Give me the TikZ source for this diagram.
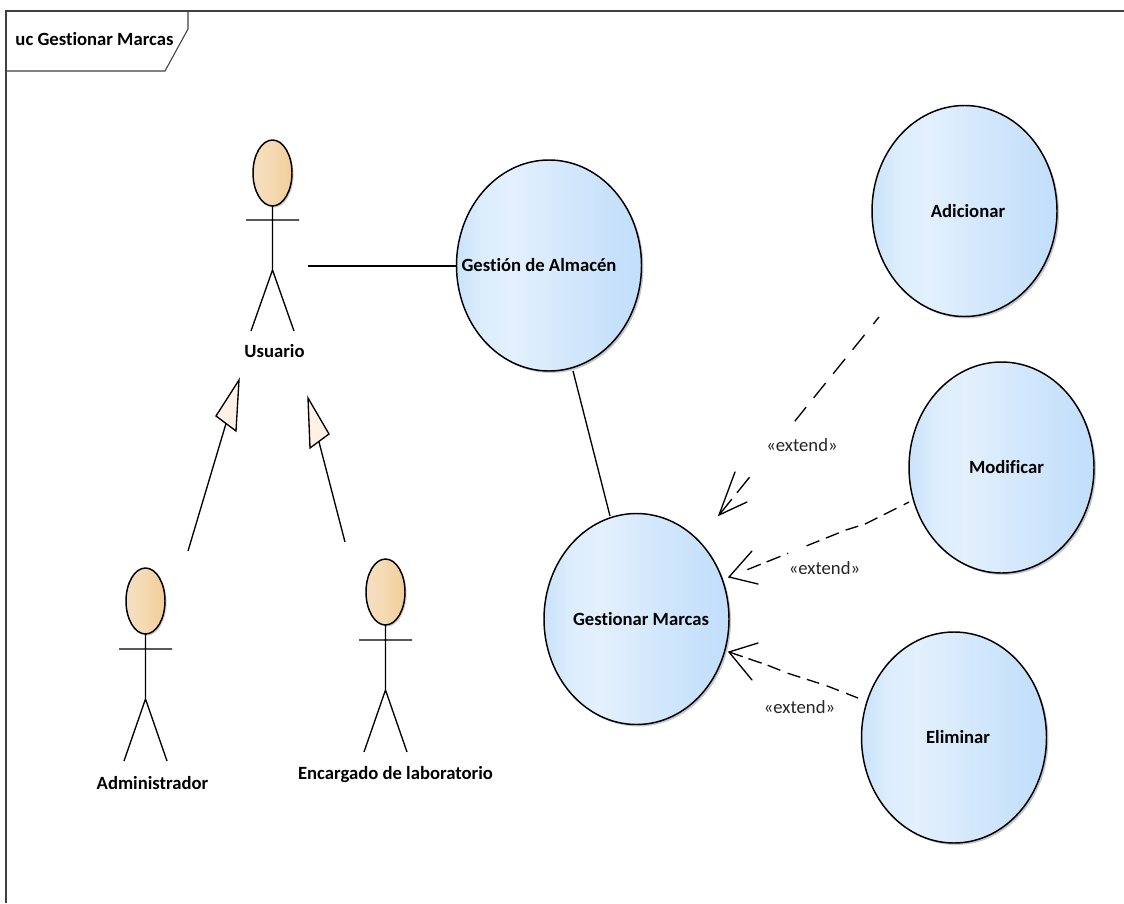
\documentclass[tikz,border=0pt]{standalone}
\usepackage{fontspec}
\setmainfont[Ligatures=NoCommon]{Carlito}
\usetikzlibrary{shapes.geometric,shadows}
\definecolor{ucA}{HTML}{C9E3FB}
\definecolor{ucB}{HTML}{DCEDFD}
\definecolor{ucD}{HTML}{E3F0FD}
\definecolor{ucE}{HTML}{D3E8FC}
\definecolor{ucC}{HTML}{C3DFFB}
\definecolor{orA}{HTML}{F5DFC2}
\definecolor{orB}{HTML}{F5DBB5}
\definecolor{orC}{HTML}{F2CE9A}
\pgfdeclarehorizontalshading{ucblue}{100bp}{color(0bp)=(ucA);color(25bp)=(ucA);color(32bp)=(ucB);color(40bp)=(ucD);color(55bp)=(ucE);color(72bp)=(ucC);color(100bp)=(ucC)}
\pgfdeclarehorizontalshading{ucorange}{100bp}{color(0bp)=(orA);color(25bp)=(orA);color(45bp)=(orB);color(72bp)=(orC);color(100bp)=(orC)}
\newcommand{\uctext}[2]{\makebox[0pt][c]{\hspace{#1}\bfseries #2}}
\tikzset{
  ucase/.style={ellipse,draw=black,line width=1.1pt,shading=ucblue,minimum width=138.75pt,minimum height=158.25pt,inner sep=0pt,outer sep=0pt,
    font=\fontsize{14}{16}\selectfont,text=black,
    copy shadow={draw=none,fill=black!22,shadow xshift=1.5pt,shadow yshift=-1.5pt}},
  acthead/.style={ellipse,draw=black,line width=1.1pt,shading=ucorange,minimum width=29.25pt,minimum height=49.5pt,inner sep=0pt,outer sep=0pt,
    copy shadow={draw=none,fill=black!18,shadow xshift=1.2pt,shadow yshift=-1.2pt}},
  actline/.style={draw=black,line width=1pt},
  actname/.style={font=\bfseries\fontsize{14}{16}\selectfont,inner sep=0pt,text=black},
  assoc/.style={draw=black,line width=1pt},
  gentri/.style={draw=black,line width=1pt,fill=orange!10!white,line join=miter},
  extline/.style={draw=black,line width=1pt,line join=round},
  barb/.style={draw=black,line width=1pt,line cap=round},
  extlabel/.style={font=\fontsize{14}{16}\selectfont,inner sep=0pt,text=black!85},
  frameline/.style={draw=black!75,line width=0.8pt},
}
\begin{document}
\begin{tikzpicture}[x=0.75pt,y=-0.75pt]
\useasboundingbox (0,0) rectangle (1124,903);
\fill[white] (0,0) rectangle (1124,903);

% frame
\coordinate (f0) at (6,903);
\coordinate (f1) at (6,11);
\coordinate (f2) at (1124,11);
\draw[frameline] (f0) -- (f1) -- (f2);
\coordinate (t1) at (188,11);
\coordinate (t2) at (188,29);
\coordinate (t3) at (165,71);
\coordinate (t4) at (6,71);
\draw[frameline] (t1) -- (t2) -- (t3) -- (t4);
\node[actname] (frametitle) at (94.5,39.5) {uc Gestionar Marcas};

% use cases
\node[ucase] (alm) at (549,265.5) {\uctext{-15pt}{Gestión de Almacén}};
\node[ucase] (mar) at (636.5,619) {\uctext{6.75pt}{Gestionar Marcas}};
\node[ucase] (adi) at (964.5,211) {\uctext{5.25pt}{Adicionar}};
\node[ucase] (mod) at (1001.5,467.5) {\uctext{7.5pt}{Modificar}};
\node[ucase] (eli) at (954,737.5) {\uctext{6pt}{Eliminar}};

% actors
\node[acthead] (uh) at (272.5,173) {};
\coordinate (uarmL) at (246,220); \coordinate (uarmR) at (299,220);
\coordinate (uhip) at (272.5,270); \coordinate (ulegL) at (251,331); \coordinate (ulegR) at (294,331);
\draw[actline] (uh.south) -- (uhip) (uarmL) -- (uarmR) (ulegL) -- (uhip) -- (ulegR);
\node[actname] (un) at (274.5,351.5) {Usuario};

\node[acthead] (ah) at (145.5,601) {};
\coordinate (aarmL) at (119,649); \coordinate (aarmR) at (172,649);
\coordinate (ahip) at (145.5,699); \coordinate (alegL) at (124,761); \coordinate (alegR) at (167,761);
\draw[actline] (ah.south) -- (ahip) (aarmL) -- (aarmR) (alegL) -- (ahip) -- (alegR);
\node[actname] (an) at (152.5,783) {Administrador};

\node[acthead] (eh) at (385.5,592) {};
\coordinate (earmL) at (359,640); \coordinate (earmR) at (412,640);
\coordinate (ehip) at (385.5,690); \coordinate (elegL) at (364,752); \coordinate (elegR) at (407,752);
\draw[actline] (eh.south) -- (ehip) (earmL) -- (earmR) (elegL) -- (ehip) -- (elegR);
\node[actname] (en) at (395.5,775) {Encargado de laboratorio};

% associations
\coordinate (uright) at (308,266);
\draw[assoc] (uright) -- (alm.west |- uright);
\coordinate (c1) at (573,371);
\coordinate (c2) at (610,516);
\draw[assoc] (c1) -- (c2);

% generalizations
\coordinate (g1s) at (188,551); \coordinate (g1e) at (226,423.5);
\coordinate (g1t) at (239,380); \coordinate (g1a) at (216,416); \coordinate (g1b) at (236,431);
\draw[assoc] (g1s) -- (g1e);
\draw[gentri] (g1t) -- (g1a) -- (g1b) -- cycle;
\coordinate (g2s) at (345,542); \coordinate (g2e) at (319,442);
\coordinate (g2t) at (308,398); \coordinate (g2a) at (329,434); \coordinate (g2b) at (310,448);
\draw[assoc] (g2s) -- (g2e);
\draw[gentri] (g2t) -- (g2a) -- (g2b) -- cycle;

% extends
\coordinate (e1s) at (879,317); \coordinate (e1t) at (719,515);
\coordinate (e1a) at (735,472); \coordinate (e1b) at (747,502);
\draw[extline,dash pattern=on 6.75pt off 10.5pt on 14.25pt off 9pt on 14.25pt off 9pt on 14.25pt off 9pt on 13.5pt off 54pt on 15pt off 6pt on 15pt off 20pt] (e1s) -- (e1t);
\draw[barb] (e1a) -- (e1t) -- (e1b);
\node[extlabel] (l1) at (802,445.5) {«extend»};

\coordinate (e2s) at (909,502); \coordinate (e2k1) at (865,524); \coordinate (e2k2) at (846,530); \coordinate (e2t) at (729,577);
\coordinate (e2a) at (752,551); \coordinate (e2b) at (758,584);
\draw[extline,dash pattern=on 4.5pt off 6pt on 10.7pt off 5.3pt on 10.5pt off 5.3pt on 9.8pt off 5.5pt on 10.5pt off 5.3pt on 10.3pt off 15pt on .8pt off 5.3pt on 11.2pt off 4.7pt on 10.9pt off 20pt] (e2s) -- (e2k1) -- (e2k2) -- (e2t);
\draw[barb] (e2a) -- (e2t) -- (e2b);
\node[extlabel] (l2) at (824.5,568) {«extend»};

\coordinate (e3s) at (858,698); \coordinate (e3k1) at (826,685.5); \coordinate (e3k2) at (787,673); \coordinate (e3k3) at (767,665); \coordinate (e3t) at (729,652);
\coordinate (e3a) at (758,643); \coordinate (e3b) at (752,680);
\draw[extline,dash pattern=on 9.6pt off 5.8pt on 9.8pt off 6pt on 9.6pt off 5.2pt on 10pt off 5.9pt on 10.2pt off 4.8pt on 10.5pt off 4.5pt on 15pt off 20pt] (e3s) -- (e3k1) -- (e3k2) -- (e3k3) -- (e3t);
\draw[barb] (e3a) -- (e3t) -- (e3b);
\node[extlabel] (l3) at (799.5,707) {«extend»};
\end{tikzpicture}
\end{document}
